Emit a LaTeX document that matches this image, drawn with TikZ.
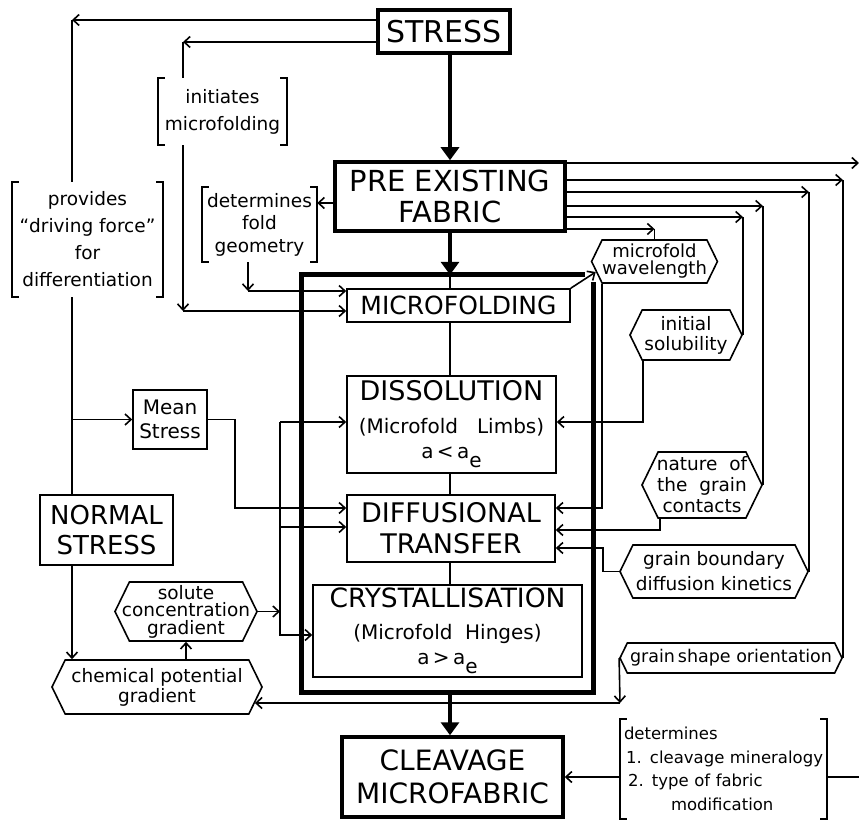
\documentclass[tikz,border=0pt]{standalone}
\usepackage{fontspec}
\setmainfont{DejaVu Sans}
\usetikzlibrary{arrows.meta,shapes.symbols}

\newcommand\sqbrackets[1]{%
  \draw[wire] ([xshift=7pt]#1.north west) -- (#1.north west) -- (#1.south west) -- ([xshift=7pt]#1.south west);
  \draw[wire] ([xshift=-7pt]#1.north east) -- (#1.north east) -- (#1.south east) -- ([xshift=-7pt]#1.south east);}
\newcommand\minor{\fontsize{20}{24}\selectfont}

\begin{document}
\begin{tikzpicture}[x=1pt, y=-1pt,
    wire/.style={line width=1.6pt},
    arr/.style={wire, -{Straight Barb[length=6pt,width=11pt]}},
    bigarr/.style={line width=3.5pt, -{Triangle[length=13pt,width=18pt]}},
    bigbox/.style={draw, line width=3.5pt, inner sep=0pt, align=center, font=\fontsize{29}{31}\selectfont},
    stagebox/.style={draw, line width=1.6pt, inner sep=0pt, align=center, font=\fontsize{26.5}{31}\selectfont},
    note/.style={inner sep=0pt, align=center, font=\fontsize{18.5}{27}\selectfont},
    hexa/.style={signal, signal to=west and east, signal pointer angle=128, draw, line width=1.6pt,
      inner xsep=0pt, inner ysep=1pt, align=center, font=\fontsize{18.5}{20}\selectfont}]
\useasboundingbox (0,0) rectangle (859,821);

% main chain
\node[bigbox, minimum width=132pt, minimum height=43pt, font=\fontsize{30}{31}\selectfont] (stress) at (444,31.5) {STRESS};
\node[bigbox, minimum width=230pt, minimum height=69pt] (pre) at (450,196.5) {PRE EXISTING\\FABRIC};
\node[inner sep=0pt, minimum width=291pt, minimum height=417pt] (proc) at (447.5,483.5) {};
\node[stagebox, minimum width=223pt, minimum height=33pt, font=\fontsize{25}{30}\selectfont] (mfold) at (458.5,305.5) {MICROFOLDING};
\node[stagebox, minimum width=209pt, minimum height=97pt, font=\fontsize{27}{25}\selectfont] (diss) at (451.5,424.5)
  {DISSOLUTION\\[8pt]{\minor (Microfold\ \ \ Limbs)}\\{\minor a\,<\,a\raisebox{-9pt}{e}}};
\node[stagebox, minimum width=208pt, minimum height=67pt, font=\fontsize{27}{31}\selectfont] (diff) at (451,528.5) {DIFFUSIONAL\\TRANSFER};
\node[stagebox, minimum width=269pt, minimum height=92pt, font=\fontsize{26.5}{25}\selectfont] (cryst) at (447.5,631)
  {CRYSTALLISATION\\[7pt]{\minor (Microfold\ \ Hinges)}\\{\minor a\,>\,a\raisebox{-9pt}{e}}};
\node[bigbox, minimum width=221pt, minimum height=80pt, font=\fontsize{28}{33}\selectfont] (cleav) at (452.5,777) {CLEAVAGE\\MICROFABRIC};

% stress side
\node[stagebox, minimum width=133pt, minimum height=70pt, font=\fontsize{26}{30}\selectfont] (normal) at (106.5,530) {NORMAL\\STRESS};
\node[stagebox, minimum width=74pt, minimum height=59pt, font=\fontsize{20}{24}\selectfont] (mean) at (170,419.5) {Mean\\Stress};

% bracketed notes
\node[note, minimum width=129pt, minimum height=67pt] (init) at (222.5,111.5) {initiates\\microfolding};
\node[note, minimum width=151pt, minimum height=115pt] (prov) at (87.5,239.5) {provides\\``driving force''\\for\\differentiation};
\node[note, minimum width=115pt, minimum height=75pt, font=\fontsize{18.5}{22.5}\selectfont] (fold) at (259.5,224.5) {determines\\fold\\geometry};
\node[note, minimum width=207pt, minimum height=100pt, text width=205pt, align=left, font=\fontsize{16.5}{23.5}\selectfont] (det) at (723.5,769)
  {\hspace*{3pt}determines\\\hspace*{5pt}1. cleavage mineralogy\\\hspace*{7pt}2. type of fabric\\\hspace*{50pt}modification};
\sqbrackets{init}
\sqbrackets{prov}
\sqbrackets{fold}
\sqbrackets{det}

% controlling factors
\node[hexa, minimum width=125pt, minimum height=43pt, font=\fontsize{18}{17}\selectfont] (wave) at (654.5,261.5) {microfold\\wavelength};
\node[hexa, minimum width=112pt, minimum height=50pt] (sol) at (686,335) {initial\\solubility};
\node[hexa, minimum width=120pt, minimum height=66pt, inner xsep=-2pt, font=\fontsize{18.5}{21}\selectfont] (nat) at (702,485) {nature\ \ of\\the\ \ grain\\contacts};
\node[hexa, minimum width=188pt, minimum height=53pt, font=\fontsize{18.5}{25}\selectfont] (gbk) at (714,571.5) {grain boundary\\diffusion kinetics};
\node[hexa, minimum width=222pt, minimum height=30pt, font=\fontsize{17.5}{20}\selectfont] (gso) at (731,658) {grain\,shape orientation};
\node[hexa, minimum width=142pt, minimum height=59pt, inner xsep=-8pt, font=\fontsize{18.5}{17.5}\selectfont] (solute) at (186,611.5) {solute\\concentration\\gradient};
\node[hexa, minimum width=210pt, minimum height=54pt] (chem) at (157,687) {chemical potential\\gradient};

% frame round the process
\draw[line width=5pt] ([xshift=-8pt]proc.north east) -- (proc.north west) -- (proc.south west)
  -- (proc.south east) -- ([yshift=-7pt]proc.north east);

% main arrows
\draw[bigarr] (pre.north |- stress.south) -- (pre.north);
\draw[bigarr] (pre.south) -- (pre.south |- proc.north);
\draw[bigarr] (pre.south |- proc.south) -- (pre.south |- cleav.north);
\draw[wire] (pre.south |- proc.north) -- (pre.south |- mfold.north);
\draw[wire] (mfold.south -| pre.south) -- (diss.north -| pre.south);
\draw[wire] (diss.south -| pre.south) -- (diff.north -| pre.south);
\draw[wire] (diff.south -| pre.south) -- (cryst.north -| pre.south);

% from stress to the left
\coordinate (k1) at (72,20);
\coordinate (k2) at (183,42);
\coordinate (k3) at (183,311);
\draw[arr] (stress.west |- k1) -- (k1);
\draw[wire] (k1) -- (k1 |- prov.north);
\draw[arr] (stress.west |- k2) -- (k2);
\draw[wire] (k2) -- (k2 |- init.north);
\draw[arr] (k2 |- init.south) -- (k3);
\draw[arr] (k3) -- (mfold.west |- k3);
\draw[wire] (k1 |- prov.south) -- (k1 |- normal.north);
\draw[arr] (k1 |- mean.west) -- (mean.west);
\draw[arr] (k1 |- normal.south) -- (k1 |- chem.north);

% fold geometry
\coordinate (k4) at (248,291);
\draw[arr] (pre.west |- 0,203) -- (fold.east |- 0,203);
\draw[arr] (k4 |- fold.south) -- (k4);
\draw[arr] (k4) -- (mfold.west |- k4);

% mean stress and solute gradient
\coordinate (k5) at (235,508);
\coordinate (bus) at (280,422);
\draw[arr] (mean.east) -| (k5) -- (diff.west |- k5);
\draw[arr] (solute.east) -- (bus |- solute.east);
\draw[arr] (bus) -- (diss.west |- bus);
\draw[arr] (bus |- 0,527) -- (diff.west |- 0,527);
\draw[arr] (bus) -- (bus |- 0,635) -- (cryst.west |- 0,635);
\draw[arr] (solute.south |- chem.north) -- (solute.south);

% pre existing fabric to the right
\coordinate (offR) at (859,163);
\draw[arr] (pre.east |- offR) -- (offR);
\foreach \yy/\tgt in {180/gso,192/gbk,206/nat,217/sol} {
  \draw[arr] (pre.east |- 0,\yy) -- (\tgt.east |- 0,\yy);
  \draw[wire] (\tgt.east |- 0,\yy) -- (\tgt.east);
}
\draw[arr] (pre.east |- 0,229) -- (wave.north |- 0,229);
\draw[wire] (wave.north |- 0,229) -- (wave.north);

% factors into the process
\coordinate (k6) at (602,508);
\coordinate (k7) at (643,422);
\coordinate (k8) at (660,530);
\coordinate (k9) at (603,548);
\coordinate (k10) at (620,703);
\draw[arr] (mfold.north east) -- ([xshift=5pt,yshift=-10.5pt]wave.west);
\draw[arr] (k6 |- wave.south) -- (k6) -- (diff.east |- k6);
\draw[arr] (k7 |- sol.south) -- (k7) -- (diss.east |- k7);
\draw[arr] (k8 |- nat.south) -- (k8) -- (diff.east |- k8);
\draw[arr] (gbk.west) -| (k9) -- (diff.east |- k9);
\draw[arr] (gso.west) -- (k10);
\draw[arr] (k10) -- ([xshift=-8pt,yshift=-16pt]chem.east);

% determines
\coordinate (offR2) at (859,777);
\draw[arr] (det.west |- cleav.east) -- (cleav.east);
\draw[wire] (det.east |- cleav.east) -- (offR2);
\end{tikzpicture}
\end{document}
